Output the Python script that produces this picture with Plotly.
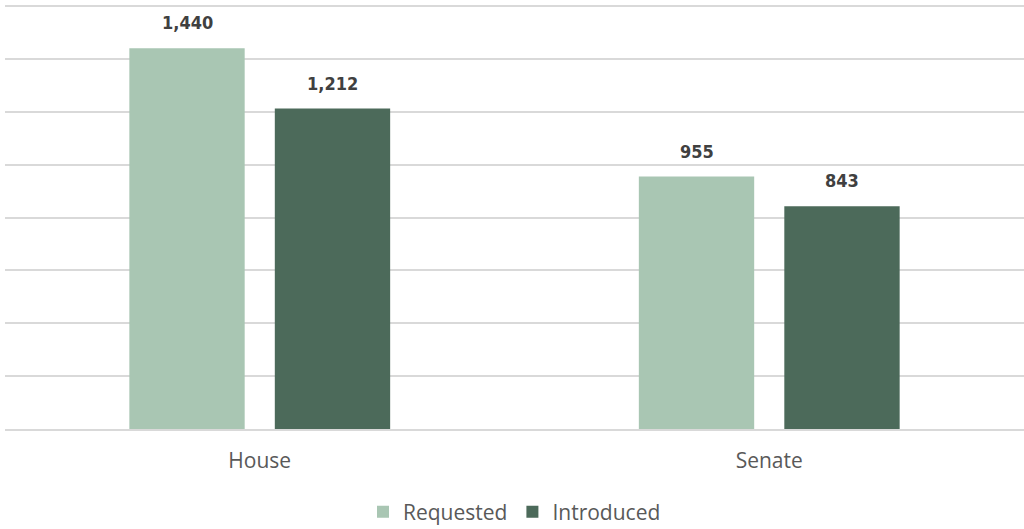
import plotly.graph_objects as go

# Chamber totals by status
chambers = ["House", "Senate"]
requested = [1440, 955]
introduced = [1212, 843]
series_names = ["Requested", "Introduced"]
series_colors = ["#A9C6B3", "#4C6A5A"]

fig = go.Figure()
for name, vals, color in zip(series_names, [requested, introduced], series_colors):
    fig.add_trace(go.Bar(
        name=name,
        x=chambers,
        y=vals,
        marker=dict(color=color, line=dict(width=0)),
        hoverinfo="x+y+name",
    ))

# Value labels above each bar
offsets = [-72.5, 72.5]
for vals, dx in zip([requested, introduced], offsets):
    for cat, v in zip(chambers, vals):
        fig.add_annotation(
            x=cat, y=v, xref="x", yref="y",
            text=f"<b>{v:,}</b>",
            showarrow=False,
            xshift=dx, yshift=13,
            yanchor="bottom",
            font=dict(family="DejaVu Sans Condensed", size=18, color="#404040"),
        )

fig.update_layout(
    width=1024, height=529,
    margin=dict(l=5, r=0, t=5, b=100, autoexpand=False),
    paper_bgcolor="white",
    plot_bgcolor="white",
    barmode="group",
    bargap=0.429,
    bargroupgap=0.207,
    font=dict(family="Open Sans", color="#595959"),
    legend=dict(
        orientation="h",
        x=0.5, xanchor="center",
        y=-0.196, yanchor="middle",
        font=dict(size=21, color="#595959"),
        itemwidth=30,
        traceorder="normal",
    ),
    xaxis=dict(
        showline=True, linecolor="#D9D9D9", linewidth=2,
        tickfont=dict(size=21, color="#595959"),
        ticks="", showgrid=False,
        ticklabelstandoff=12,
    ),
    yaxis=dict(
        range=[0, 1604],
        dtick=200,
        showticklabels=False,
        gridcolor="#D9D9D9", gridwidth=1.5,
        zeroline=False,
    ),
)

fig.write_html("out.html")
